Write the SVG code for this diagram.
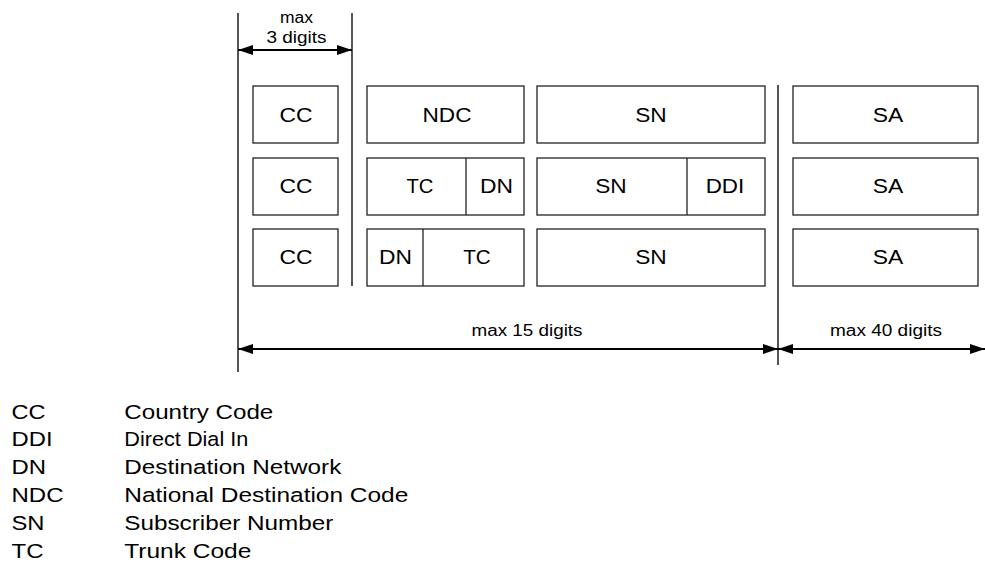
<svg xmlns="http://www.w3.org/2000/svg" width="985" height="562" viewBox="0 0 985 562">
<style>
text{font-family:"Liberation Sans",Arial,sans-serif;fill:#000}
.lbl{font-size:20px;text-anchor:middle}
.dim{font-size:16px;text-anchor:middle}
.leg{font-size:20.5px}
.box{fill:#fff;stroke:#222;stroke-width:1.3}
.div{stroke:#222;stroke-width:1.3}
.guide{stroke:#555;stroke-width:2;fill:none}
.arr{stroke:#000;stroke-width:2;fill:none;marker-start:url(#ah);marker-end:url(#ah)}
</style>
<defs>
<marker id="ah" markerUnits="userSpaceOnUse" markerWidth="15" markerHeight="10" refX="15" refY="5" orient="auto-start-reverse" overflow="visible">
<path d="M0,0 L15,5 L0,10 z" fill="#000"/>
</marker>
</defs>
<rect width="985" height="562" fill="#fff"/>
<g id="connectors">
<line class="guide" x1="238" y1="13" x2="238" y2="372"/>
<line class="guide" x1="352" y1="13" x2="352" y2="286"/>
<line class="guide" x1="778" y1="85" x2="778" y2="365"/>
<line class="arr" x1="238" y1="50" x2="352" y2="50"/>
<line class="arr" x1="238" y1="349" x2="778" y2="349"/>
<line class="arr" x1="778" y1="349" x2="985" y2="349"/>
</g>
<g id="dim-labels">
<text class="dim" x="296.5" y="23.3" textLength="33" lengthAdjust="spacingAndGlyphs">max</text>
<text class="dim" x="296.5" y="43.3" textLength="60" lengthAdjust="spacingAndGlyphs">3 digits</text>
<text class="dim" x="527" y="336" textLength="111" lengthAdjust="spacingAndGlyphs">max 15 digits</text>
<text class="dim" x="886" y="336" textLength="112" lengthAdjust="spacingAndGlyphs">max 40 digits</text>
</g>
<g id="row1">
<g id="cc1"><rect class="box" x="253" y="86" width="85" height="57"/><text class="lbl" x="296" y="121.5" textLength="33" lengthAdjust="spacingAndGlyphs">CC</text></g>
<g id="ndc1"><rect class="box" x="367" y="86" width="157" height="57"/><text class="lbl" x="447" y="121.5" textLength="49" lengthAdjust="spacingAndGlyphs">NDC</text></g>
<g id="sn1"><rect class="box" x="537" y="86" width="228" height="57"/><text class="lbl" x="651" y="121.5" textLength="31.5" lengthAdjust="spacingAndGlyphs">SN</text></g>
<g id="sa1"><rect class="box" x="793" y="86" width="185" height="57"/><text class="lbl" x="888" y="121.5" textLength="30.5" lengthAdjust="spacingAndGlyphs">SA</text></g>
</g>
<g id="row2">
<g id="cc2"><rect class="box" x="253" y="158" width="85" height="57"/><text class="lbl" x="296" y="192.5" textLength="33" lengthAdjust="spacingAndGlyphs">CC</text></g>
<g id="tcdn2"><rect class="box" x="367" y="158" width="157" height="57"/><line class="div" x1="466" y1="158" x2="466" y2="215"/><text class="lbl" x="420" y="192.5" textLength="27" lengthAdjust="spacingAndGlyphs">TC</text><text class="lbl" x="496.5" y="192.5" textLength="33" lengthAdjust="spacingAndGlyphs">DN</text></g>
<g id="snddi2"><rect class="box" x="537" y="158" width="228" height="57"/><line class="div" x1="687" y1="158" x2="687" y2="215"/><text class="lbl" x="611" y="192.5" textLength="31.5" lengthAdjust="spacingAndGlyphs">SN</text><text class="lbl" x="725" y="192.5" textLength="38.6" lengthAdjust="spacingAndGlyphs">DDI</text></g>
<g id="sa2"><rect class="box" x="793" y="158" width="185" height="57"/><text class="lbl" x="888" y="192.5" textLength="30.5" lengthAdjust="spacingAndGlyphs">SA</text></g>
</g>
<g id="row3">
<g id="cc3"><rect class="box" x="253" y="229" width="85" height="57"/><text class="lbl" x="296" y="264" textLength="33" lengthAdjust="spacingAndGlyphs">CC</text></g>
<g id="dntc3"><rect class="box" x="367" y="229" width="157" height="57"/><line class="div" x1="423" y1="229" x2="423" y2="286"/><text class="lbl" x="395.5" y="264" textLength="33" lengthAdjust="spacingAndGlyphs">DN</text><text class="lbl" x="477" y="264" textLength="27.5" lengthAdjust="spacingAndGlyphs">TC</text></g>
<g id="sn3"><rect class="box" x="537" y="229" width="228" height="57"/><text class="lbl" x="651" y="264" textLength="31.5" lengthAdjust="spacingAndGlyphs">SN</text></g>
<g id="sa3"><rect class="box" x="793" y="229" width="185" height="57"/><text class="lbl" x="888" y="264" textLength="30.5" lengthAdjust="spacingAndGlyphs">SA</text></g>
</g>
<g id="legend">
<text class="leg" x="11.5" y="418.5" textLength="34" lengthAdjust="spacingAndGlyphs">CC</text>
<text class="leg" x="124.3" y="418.5" textLength="149" lengthAdjust="spacingAndGlyphs">Country Code</text>
<text class="leg" x="11.5" y="446.3" textLength="41" lengthAdjust="spacingAndGlyphs">DDI</text>
<text class="leg" x="124.3" y="446.3" textLength="124" lengthAdjust="spacingAndGlyphs">Direct Dial In</text>
<text class="leg" x="11.5" y="474.1" textLength="34.5" lengthAdjust="spacingAndGlyphs">DN</text>
<text class="leg" x="124.3" y="474.1" textLength="217" lengthAdjust="spacingAndGlyphs">Destination Network</text>
<text class="leg" x="11.5" y="501.9" textLength="52" lengthAdjust="spacingAndGlyphs">NDC</text>
<text class="leg" x="124.3" y="501.9" textLength="284" lengthAdjust="spacingAndGlyphs">National Destination Code</text>
<text class="leg" x="11.5" y="529.7" textLength="33" lengthAdjust="spacingAndGlyphs">SN</text>
<text class="leg" x="124.3" y="529.7" textLength="209" lengthAdjust="spacingAndGlyphs">Subscriber Number</text>
<text class="leg" x="11.5" y="557.5" textLength="32" lengthAdjust="spacingAndGlyphs">TC</text>
<text class="leg" x="124.3" y="557.5" textLength="127" lengthAdjust="spacingAndGlyphs">Trunk Code</text>
</g>
</svg>
